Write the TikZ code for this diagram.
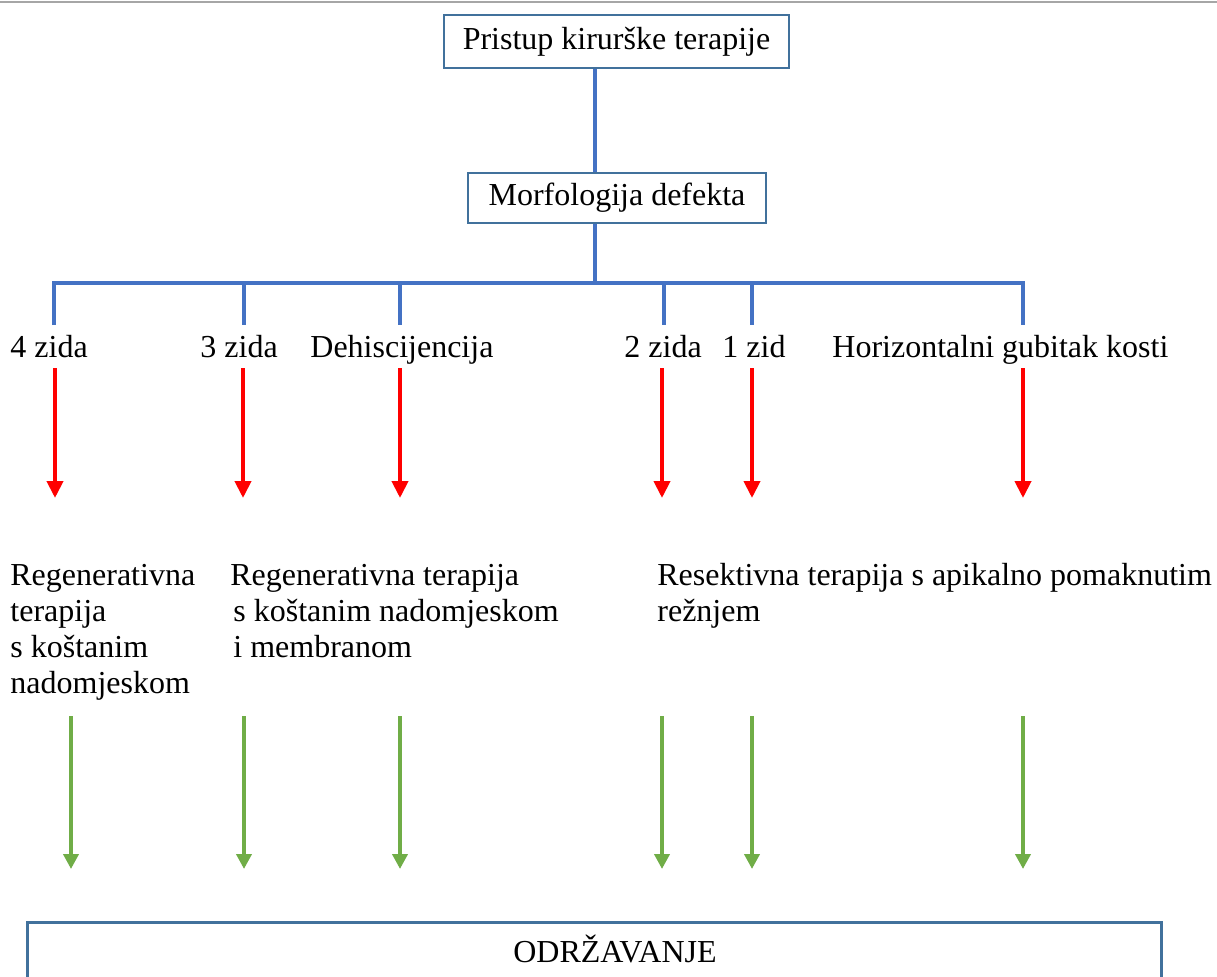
\documentclass[tikz,border=0pt]{standalone}
\usepackage{fontspec}
\setmainfont{Liberation Serif}
\usetikzlibrary{arrows.meta}
\definecolor{boxc}{HTML}{41719C}
\definecolor{connc}{HTML}{4472C4}
\definecolor{redc}{HTML}{FF0000}
\definecolor{greenc}{HTML}{70AD47}
\definecolor{grayc}{HTML}{A6A6A6}
\begin{document}
\begin{tikzpicture}[x=0.5pt,y=-0.5pt,
  font=\fontsize{16}{18}\selectfont,
  box/.style={draw=boxc,line width=1.25pt,inner sep=0pt,fill=white},
  conn/.style={draw=connc,line width=1.75pt},
  redarr/.style={draw=redc,line width=2pt,-{Triangle[width=8pt,length=8.5pt]}},
  greenarr/.style={draw=greenc,line width=2pt,-{Triangle[width=7.5pt,length=7.5pt]}},
  lbl/.style={anchor=base west,inner sep=0pt},
  blk/.style={anchor=base west,inner sep=0pt,align=left}]
\clip (0,0) rectangle (1217,976);
\fill[white] (0,0) rectangle (1217,976);
% top rule
\coordinate (tl) at (0,2);
\coordinate (tr) at (1217,2);
\draw[grayc,line width=1.25pt] (tl) -- (tr);
% boxes
\node[box,minimum width=172.5pt,minimum height=26.5pt] (b1) at (616.5,41.5) {Pristup kirurške terapije};
\node[box,minimum width=149pt,minimum height=25pt] (b2) at (617,198) {Morfologija defekta};
% trunk
\coordinate (hub) at (595,283);
\draw[conn] (b1.south -| hub) -- (b2.north -| hub);
\draw[conn] (b2.south -| hub) -- (hub);
% horizontal bar and drops
\coordinate (d1t) at (54,283);  \coordinate (d1b) at (54,325);
\coordinate (d2t) at (244,283); \coordinate (d2b) at (244,325);
\coordinate (d3t) at (400,283); \coordinate (d3b) at (400,325);
\coordinate (d4t) at (664,283); \coordinate (d4b) at (664,325);
\coordinate (d5t) at (752,283); \coordinate (d5b) at (752,325);
\coordinate (d6t) at (1023,283); \coordinate (d6b) at (1023,325);
\draw[conn,line join=miter] (d1b) -- (d1t) -- (d6t) -- (d6b);
\foreach \i in {2,3,4,5} \draw[conn] (d\i t) -- (d\i b);
% labels
\node[lbl] (l1) at (10,357) {4 zida};
\node[lbl] (l2) at (200,357) {3 zida};
\node[lbl] (l3) at (310,357) {Dehiscijencija};
\node[lbl] (l4) at (624,357) {2 zida};
\node[lbl] (l5) at (722,357) {1 zid};
\node[lbl] (l6) at (832,357) {Horizontalni gubitak kosti};
% red arrows
\foreach \i/\x in {1/55,2/243,3/400,4/662,5/752,6/1023}{
  \coordinate (r\i s) at (\x,368);
  \coordinate (r\i e) at (\x,498);
  \draw[redarr] (r\i s) -- (r\i e);
}
% therapy texts (base anchor = last line baseline)
\node[blk] (t1) at (10,693) {Regenerativna\\terapija\\s koštanim\\nadomjeskom};
\node[blk] (t2) at (230,657) {Regenerativna terapija\\\hspace{1.5pt}s koštanim nadomjeskom\\\hspace{1.5pt}i membranom};
\node[blk] (t3) at (657,621) {Resektivna terapija s apikalno pomaknutim\\režnjem};
% green arrows
\foreach \i/\x in {1/71,2/244,3/400,4/662,5/752,6/1023}{
  \coordinate (g\i s) at (\x,716);
  \coordinate (g\i e) at (\x,869);
  \draw[greenarr] (g\i s) -- (g\i e);
}
% bottom box
\node[box,fill=none,minimum width=567pt,minimum height=45pt,anchor=north west] (b3) at (26,921) {};
\node[lbl,anchor=base] (mt) at (615,962) {ODRŽAVANJE};
\end{tikzpicture}
\end{document}
